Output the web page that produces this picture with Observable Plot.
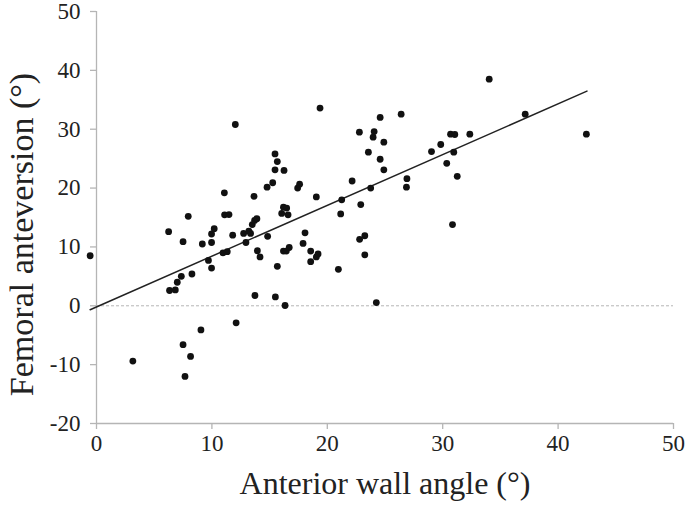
<!DOCTYPE html>
<html>
<head>
<meta charset="utf-8">
<script src="https://cdn.jsdelivr.net/npm/d3@7"></script>
<script src="https://cdn.jsdelivr.net/npm/@observablehq/plot@0.6"></script>
<style>
  html, body { margin: 0; padding: 0; background: #fff; }
  svg { display: block; }
  svg text { font-family: 'Liberation Serif', 'Times New Roman', serif !important; }
</style>
</head>
<body>
<div id="chart"></div>
<script>
// Anterior wall angle (°)
const wallAngle = [
  -0.55, 3.15, 6.25, 7.95, 7.5, 7.35, 7.0, 6.83, 6.33, 8.27,
  7.5, 8.15, 7.67, 9.05, 9.17, 9.7, 9.97, 9.97, 9.97, 10.2,
  11.1, 11.48, 11.8, 10.96, 11.33, 12.1, 12.75, 12.95, 13.2, 13.35,
  13.5, 13.7, 13.9, 13.94, 14.17, 13.73, 14.83, 15.5, 15.67, 16.34,
  16.2, 16.45, 16.7, 16.05, 16.2, 16.48, 16.6, 17.9, 18.07, 18.56,
  18.56, 19.05, 19.2, 20.96, 21.16, 21.25, 22.9, 22.8, 23.25, 23.25,
  24.25, 12.03, 19.37, 15.47, 15.67, 15.47, 16.25, 15.27, 14.78, 11.08,
  13.65, 17.43, 17.6, 19.05, 22.15, 23.76, 23.56, 22.78, 24.06, 23.97,
  24.58, 24.58, 26.4, 24.9, 24.9, 26.9, 26.86, 34.03, 37.15, 42.45,
  29.03, 29.83, 30.68, 31.05, 32.35, 30.96, 30.35, 31.26, 30.85
];
// Femoral anteversion (°)
const anteversion = [
  8.5, -9.4, 12.6, 15.2, 10.9, 5.0, 4.0, 2.7, 2.6, 5.4,
  -6.6, -8.6, -12.0, -4.1, 10.5, 7.7, 6.4, 10.75, 12.2, 13.1,
  15.45, 15.5, 12.0, 9.0, 9.2, -2.9, 12.3, 10.75, 12.7, 12.3,
  13.8, 14.5, 14.8, 9.35, 8.3, 1.75, 11.8, 1.5, 6.7, 0.05,
  9.3, 9.3, 9.9, 15.7, 16.75, 16.6, 15.45, 10.6, 12.4, 9.3,
  7.5, 8.3, 8.8, 6.2, 15.6, 18.0, 17.2, 11.3, 11.9, 8.65,
  0.55, 30.8, 33.6, 25.8, 24.5, 23.1, 23.0, 20.9, 20.15, 19.2,
  18.6, 20.0, 20.65, 18.5, 21.2, 20.0, 26.1, 29.5, 29.6, 28.65,
  32.0, 24.9, 32.55, 27.8, 23.1, 21.6, 20.15, 38.5, 32.55, 29.15,
  26.2, 27.4, 29.15, 29.1, 29.15, 26.1, 24.2, 22.0, 13.8
];
// Fitted regression line
const fitSlope = 0.863;
const fitIntercept = -0.2;
const fitRange = [-0.55, 42.5];

const xTicks = [0, 10, 20, 30, 40, 50];
const yTicks = [-20, -10, 0, 10, 20, 30, 40, 50];
const xTitle = "Anterior wall angle (°)";
const yTitle = "Femoral anteversion (°)";

const points = wallAngle.map((x, i) => ({x, y: anteversion[i]}));
const fitLine = fitRange.map(x => ({x, y: fitIntercept + fitSlope * x}));

const axisColor = "#b5b5b5";
const font = "'Liberation Serif', 'Times New Roman', serif";

const chart = Plot.plot({
  width: 685,
  height: 511,
  marginLeft: 96,
  marginRight: 12,
  marginTop: 11,
  marginBottom: 88,
  style: {fontFamily: font, background: "#fff", color: "#222"},
  x: {domain: [0, 50], axis: null},
  y: {domain: [-20, 50], axis: null},
  marks: [
    Plot.ruleY([0], {stroke: axisColor, strokeDasharray: "3,2", strokeWidth: 1}),
    Plot.ruleX([0], {stroke: axisColor, strokeWidth: 1.3}),
    Plot.ruleY([-20], {stroke: axisColor, strokeWidth: 1.3}),
    Plot.axisX({ticks: xTicks, anchor: "bottom", tickSize: 6, stroke: axisColor, strokeWidth: 1.3, tickFormat: () => "", label: null}),
    Plot.axisY({ticks: yTicks, anchor: "left", tickSize: 6, stroke: axisColor, strokeWidth: 1.3, tickFormat: () => "", label: null}),
    Plot.text(xTicks, {x: d => d, frameAnchor: "bottom", dy: 27, text: d => String(d), fontSize: 23, fontFamily: font, fill: "#222"}),
    Plot.text(yTicks, {y: d => d, frameAnchor: "left", textAnchor: "end", dx: -16, text: d => String(d), fontSize: 23, fontFamily: font, fill: "#222"}),
    Plot.text([xTitle], {frameAnchor: "bottom", dy: 70, fontSize: 32, fontFamily: font, fill: "#222"}),
    Plot.text([yTitle], {frameAnchor: "left", textAnchor: "middle", dx: -74, dy: 17, rotate: -90, fontSize: 34, fontFamily: font, fill: "#222"}),
    Plot.line(fitLine, {x: "x", y: "y", stroke: "#222", strokeWidth: 1.5}),
    Plot.dot(points, {x: "x", y: "y", r: 3.4, fill: "#111", stroke: "none"})
  ]
});
document.getElementById("chart").append(chart);
</script>
</body>
</html>
